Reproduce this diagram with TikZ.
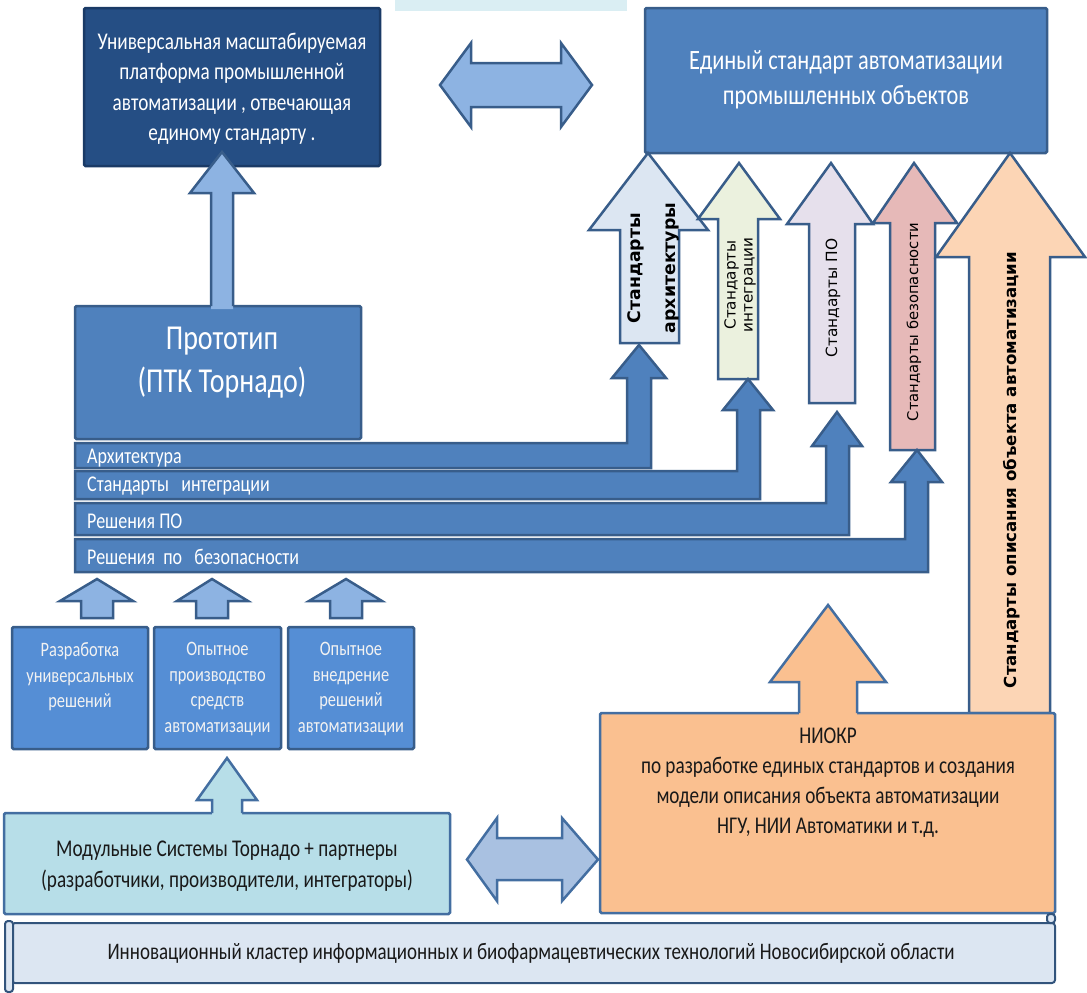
\documentclass[tikz,border=0pt]{standalone}
\usepackage{fontspec}
\setmainfont{Carlito}[FakeStretch=0.8]
\newfontfamily\vfont{DejaVu Sans}
\definecolor{platc}{HTML}{254E84}
\definecolor{platb}{HTML}{1A3A66}
\definecolor{midb}{HTML}{4F81BD}
\definecolor{midbd}{HTML}{385D8A}
\definecolor{smallc}{HTML}{558ED5}
\definecolor{lightarr}{HTML}{8DB3E2}
\definecolor{modc}{HTML}{B7DEE8}
\definecolor{dblc}{HTML}{A9C1E1}
\definecolor{niokrc}{HTML}{FAC090}
\definecolor{orangec}{HTML}{FCD5B5}
\definecolor{archc}{HTML}{DCE6F2}
\definecolor{integc}{HTML}{EBF1DE}
\definecolor{poc}{HTML}{E6E0EC}
\definecolor{secc}{HTML}{E6B9B8}
\definecolor{scrollc}{HTML}{DCE6F2}
\definecolor{stripc}{HTML}{DAEEF3}
\newcommand{\UpArrow}[9]{\draw[#1] (#2,#4) -- (#2,#5) -- (#6,#5) -- (#8,#9) -- (#7,#5) -- (#3,#5) -- (#3,#4) -- cycle;}
\newcommand{\UpArrowOpen}[9]{\fill[#1,draw=none] (#2,#4+3) -- (#2,#5) -- (#6,#5) -- (#8,#9) -- (#7,#5) -- (#3,#5) -- (#3,#4+3) -- cycle;
  \draw[#1,fill=none] (#2,#4) -- (#2,#5) -- (#6,#5) -- (#8,#9) -- (#7,#5) -- (#3,#5) -- (#3,#4);}
\newcommand{\Band}[9]{\draw[band] (75,#1) -- (#3,#1) -- (#3,#5) -- (#6,#5) -- (#8,#9) -- (#7,#5) -- (#4,#5) -- (#4,#2) -- (75,#2) -- cycle;}
\tikzset{
  box/.style={draw, line width=2.5pt, rounded corners=1.5pt, inner sep=0pt},
  band/.style={fill=midb, draw=midbd, line width=2.5pt, line join=miter},
  arr/.style={draw=midbd, line width=2.5pt, line join=miter},
  vtext/.style={rotate=90, align=center, text=black, inner sep=0pt},
  wtext/.style={text=white, align=center, inner sep=0pt},
  btext/.style={text=black!90, align=center, inner sep=0pt},
  bandtext/.style={text=white, anchor=west, inner sep=0pt, font=\fontsize{22.5}{24}\selectfont}
}
\begin{document}
\begin{tikzpicture}[x=1pt,y=-1pt]
\useasboundingbox (0,0) rectangle (1087,993);
\fill[stripc] (395,0) rectangle (627,11);
% top boxes
\node[box, fill=platc, draw=platb, minimum width=296pt, minimum height=158pt] (plat) at (232,87) {};
\node[wtext, font=\fontsize{24}{30.5}\selectfont] (plattext) at (232,89) {Универсальная масштабируемая\\платформа промышленной\\автоматизации , отвечающая\\единому стандарту .};
\node[box, fill=midb, draw=midbd, minimum width=402pt, minimum height=145pt] (std) at (846,80.5) {};
\node[wtext, font=\fontsize{28}{35}\selectfont] (stdtext) at (846,80) {Единый стандарт автоматизации\\промышленных объектов};
% top double arrow
\draw[arr, fill=lightarr] (440,85) -- (471,43) -- (471,63) -- (561,63) -- (561,43) -- (592,85) -- (561,127) -- (561,107) -- (471,107) -- (471,127) -- cycle;
% standards arrows
\UpArrow{arr, fill=archc}{620}{679}{343}{230}{589}{708}{648}{153}
\UpArrow{arr, fill=integc}{718}{758}{379}{219}{698}{780}{739}{163}
\UpArrow{arr, fill=poc}{809}{855}{403}{224}{787}{873}{831}{163}
\UpArrow{arr, fill=secc}{890}{935}{450}{223}{873}{957}{914}{163}
\UpArrow{arr, fill=orangec}{969}{1050}{713}{257}{936}{1085}{1010}{153}
\node[vtext, font=\vfont\bfseries\fontsize{17.3}{35}\selectfont] (archtext) at (653,268) {Стандарты\\архитектуры};
\node[vtext, font=\vfont\fontsize{15.2}{17}\selectfont] (integtext) at (740,285) {Стандарты\\интеграции};
\node[vtext, font=\vfont\fontsize{15.4}{17}\selectfont] (potext) at (833,298) {Стандарты ПО};
\node[vtext, font=\vfont\fontsize{14.8}{17}\selectfont] (sectext) at (914,322) {Стандарты безопасности};
\node[vtext, font=\vfont\bfseries\fontsize{16.6}{18}\selectfont] (ortext) at (1012,470) {Стандарты описания объекта автоматизации};
% prototype
\node[box, fill=midb, draw=midbd, minimum width=286pt, minimum height=133pt] (proto) at (218,372.5) {};
\UpArrowOpen{arr, fill=lightarr}{211}{233}{306}{193}{190}{254}{222}{152}
\node[wtext, font=\fontsize{35}{43}\selectfont] (prototext) at (222,363) {Прототип\\(ПТК Торнадо)};
% bands
\Band{443}{468}{627}{651}{378}{612}{666}{639}{345}
\Band{471}{499}{737}{760}{410}{723}{773}{748}{379}
\Band{503}{535}{826}{849}{446}{812}{862}{837}{412}
\Band{539}{572}{905}{928}{482}{891}{942}{917}{450}
\node[bandtext] (b1) at (87,458) {Архитектура};
\node[bandtext] (b2) at (87,486) {Стандарты\ \ \ интеграции};
\node[bandtext] (b3) at (87,521) {Решения ПО};
\node[bandtext] (b4) at (87,557) {Решения\ \ по\ \ \ безопасности};
% small arrows
\UpArrow{arr, fill=lightarr}{81}{113}{618}{601}{60}{133}{97}{579}
\UpArrow{arr, fill=lightarr}{196}{228}{618}{601}{177}{248}{212}{579}
\UpArrow{arr, fill=lightarr}{330}{362}{618}{601}{309}{382}{346}{579}
% small boxes
\node[box, fill=smallc, draw=midbd, minimum width=136pt, minimum height=122pt] (s1) at (80,688) {};
\node[box, fill=smallc, draw=midbd, minimum width=127pt, minimum height=122pt] (s2) at (217.5,688) {};
\node[box, fill=smallc, draw=midbd, minimum width=126pt, minimum height=122pt] (s3) at (351,688) {};
\node[wtext, text=white!95!black, font=\fontsize{20.5}{25.5}\selectfont] (s1t) at (80,677) {Разработка\\универсальных\\решений};
\node[wtext, text=white!95!black, font=\fontsize{20.5}{25.5}\selectfont] (s2t) at (217.5,689) {Опытное\\производство\\средств\\автоматизации};
\node[wtext, text=white!95!black, font=\fontsize{20.5}{25.5}\selectfont] (s3t) at (351,689) {Опытное\\внедрение\\решений\\автоматизации};
% modular box
\node[box, fill=modc, draw=midb!85!black, minimum width=446pt, minimum height=101pt] (mod) at (227,863.5) {};
\UpArrowOpen{draw=midb!85!black, line width=2.5pt, fill=modc}{212}{242}{813}{800}{197}{257}{227}{758}
\node[btext, font=\fontsize{24}{31}\selectfont] (modt) at (227,866) {Модульные Системы Торнадо + партнеры\\(разработчики, производители, интеграторы)};
% bottom double arrow
\draw[draw=midb!85!black, line width=2.5pt, fill=dblc] (467,859.5) -- (497,818) -- (497,838) -- (562,838) -- (562,818) -- (598,859.5) -- (562,901) -- (562,880) -- (497,880) -- (497,901) -- cycle;
% NIOKR
\node[box, fill=niokrc, draw=midb!85!black, minimum width=455pt, minimum height=200pt] (niokr) at (827.5,813) {};
\UpArrowOpen{draw=midb!85!black, line width=2.5pt, fill=niokrc}{799}{857}{713}{682}{770}{886}{828}{605}
\node[btext, font=\fontsize{24}{30}\selectfont] (niokrt) at (828,783) {НИОКР\\по разработке единых стандартов и создания\\модели описания объекта автоматизации\\НГУ, НИИ Автоматики и т.д.};
% scroll
\draw[draw=midbd!90!black, line width=2pt, fill=scrollc, rounded corners=3pt] (12,923) rectangle (1055,983);
\draw[draw=midbd!90!black, line width=2pt, fill=scrollc, rounded corners=3pt] (1047,914) rectangle (1055,923);
\draw[draw=midbd!90!black, line width=2pt, fill=scrollc, rounded corners=3pt] (5,921) rectangle (13,992);
\node[btext, font=\fontsize{23.7}{28}\selectfont] (scrollt) at (531,953) {Инновационный кластер информационных и биофармацевтических технологий Новосибирской области};
\end{tikzpicture}
\end{document}
